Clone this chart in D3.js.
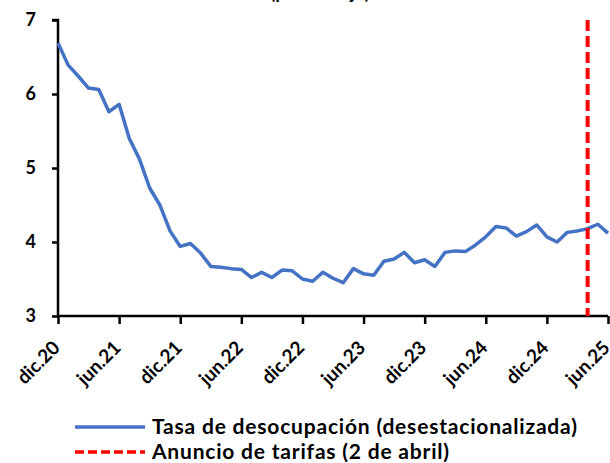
<!DOCTYPE html>
<html lang="es">
  <head>
    <meta charset="utf-8">
    <title>Tasa de desocupación</title>
    <script src="https://cdn.jsdelivr.net/npm/d3@7"></script>
    <style>
      body { margin: 0; background: #fff; }
      text { font-family: Lato, "Open Sans", sans-serif; font-weight: bold; fill: #000; }
    </style>
  </head>
  <body>
    <div id="main"></div>
  </body>

  <script type="text/javascript">

      // months, dic.20 .. jun.25
      const months = ['dic.20',
        'ene.21','feb.21','mar.21','abr.21','may.21','jun.21','jul.21','ago.21','sep.21','oct.21','nov.21','dic.21',
        'ene.22','feb.22','mar.22','abr.22','may.22','jun.22','jul.22','ago.22','sep.22','oct.22','nov.22','dic.22',
        'ene.23','feb.23','mar.23','abr.23','may.23','jun.23','jul.23','ago.23','sep.23','oct.23','nov.23','dic.23',
        'ene.24','feb.24','mar.24','abr.24','may.24','jun.24','jul.24','ago.24','sep.24','oct.24','nov.24','dic.24',
        'ene.25','feb.25','mar.25','abr.25','may.25','jun.25'];

      // unemployment rate, seasonally adjusted (%)
      const tasa = [6.69, 6.39, 6.24, 6.08, 6.06, 5.76, 5.86, 5.40, 5.12, 4.73, 4.50, 4.15, 3.94,
        3.98, 3.85, 3.67, 3.66, 3.64, 3.63, 3.52, 3.59, 3.52, 3.62, 3.61, 3.50,
        3.47, 3.59, 3.51, 3.45, 3.64, 3.57, 3.55, 3.74, 3.77, 3.86, 3.72, 3.76,
        3.67, 3.86, 3.88, 3.87, 3.96, 4.07, 4.21, 4.19, 4.08, 4.14, 4.23, 4.07,
        4.00, 4.13, 4.15, 4.18, 4.24, 4.12];

      const tickLabels = ['dic.20','jun.21','dic.21','jun.22','dic.22','jun.23','dic.23','jun.24','dic.24','jun.25'];
      const yTicks = [3, 4, 5, 6, 7];
      const anuncio = 'abr.25';

      const width = 610, height = 463;
      const mLeft = 58, mRight = 608, mTop = 20, mBottom = 316;

      let svg = d3.select('#main').append('svg')
        .attr('width', width)
        .attr('height', height);

      const x = d3.scalePoint().domain(months).range([mLeft, mRight]);
      const y = d3.scaleLinear().domain([3, 7]).range([mBottom, mTop]);

      // title, mostly cut off at the top
      svg.append('text')
        .attr('x', 320)
        .attr('y', -1)
        .attr('text-anchor', 'middle')
        .attr('font-size', '19px')
        .text('(porcentaje)');

      // y axis
      const yAxis = svg.append('g')
        .attr('transform', `translate(${mLeft},0)`)
        .call(d3.axisLeft(y).tickValues(yTicks).tickFormat(d3.format('d')).tickSize(6).tickPadding(16));
      yAxis.select('.domain').attr('stroke', '#000').attr('stroke-width', 2.5).attr('d', `M-6,${mTop}H0V${mBottom}`);
      yAxis.selectAll('.tick line').attr('stroke', '#000').attr('stroke-width', 2.5);
      yAxis.selectAll('.tick text')
        .attr('font-size', '18px')
        .attr('fill', '#000')
        .style('font-family', 'Lato')
        .style('font-weight', 'bold');

      // x axis (labels drawn separately, rotated)
      const xAxis = svg.append('g')
        .attr('transform', `translate(0,${mBottom})`)
        .call(d3.axisBottom(x).tickValues(tickLabels).tickSize(8).tickSizeOuter(0).tickFormat(''));
      xAxis.select('.domain').attr('stroke', '#000').attr('stroke-width', 2.5).attr('d', `M${mLeft},0H${mRight}`);
      xAxis.selectAll('.tick line').attr('stroke', '#000').attr('stroke-width', 2.5);

      svg.append('g')
        .selectAll('text')
        .data(tickLabels)
        .enter()
        .append('text')
        .attr('text-anchor', 'end')
        .attr('font-size', '19px')
        .attr('transform', d => `translate(${x(d) + 3},${mBottom + 33}) rotate(-45)`)
        .text(d => d);

      // series line
      const line = d3.line()
        .x((d, i) => x(months[i]))
        .y(d => y(d));

      svg.append('path')
        .datum(tasa)
        .attr('d', line)
        .attr('fill', 'none')
        .attr('stroke', '#4472C4')
        .attr('stroke-width', 3.5)
        .attr('stroke-linejoin', 'round');

      // tariff announcement
      svg.append('line')
        .attr('x1', x(anuncio)).attr('x2', x(anuncio))
        .attr('y1', mTop).attr('y2', mBottom)
        .attr('stroke', '#FF0000')
        .attr('stroke-width', 4)
        .attr('stroke-dasharray', '11,5');

      // legend
      const legend = [
        {label: 'Tasa de desocupación (desestacionalizada)', color: '#4472C4', dash: null, yy: 427},
        {label: 'Anuncio de tarifas (2 de abril)', color: '#FF0000', dash: '9,4', yy: 452}
      ];
      const lg = svg.selectAll('g.legend')
        .data(legend)
        .enter()
        .append('g')
        .attr('class', 'legend');
      lg.append('line')
        .attr('x1', 75).attr('x2', 145)
        .attr('y1', d => d.yy).attr('y2', d => d.yy)
        .attr('stroke', d => d.color)
        .attr('stroke-width', 3.5)
        .attr('stroke-dasharray', d => d.dash);
      lg.append('text')
        .attr('x', 152)
        .attr('y', d => d.yy + 7)
        .attr('font-size', '21px')
        .attr('letter-spacing', '0.8px')
        .text(d => d.label);

  </script>
</html>
